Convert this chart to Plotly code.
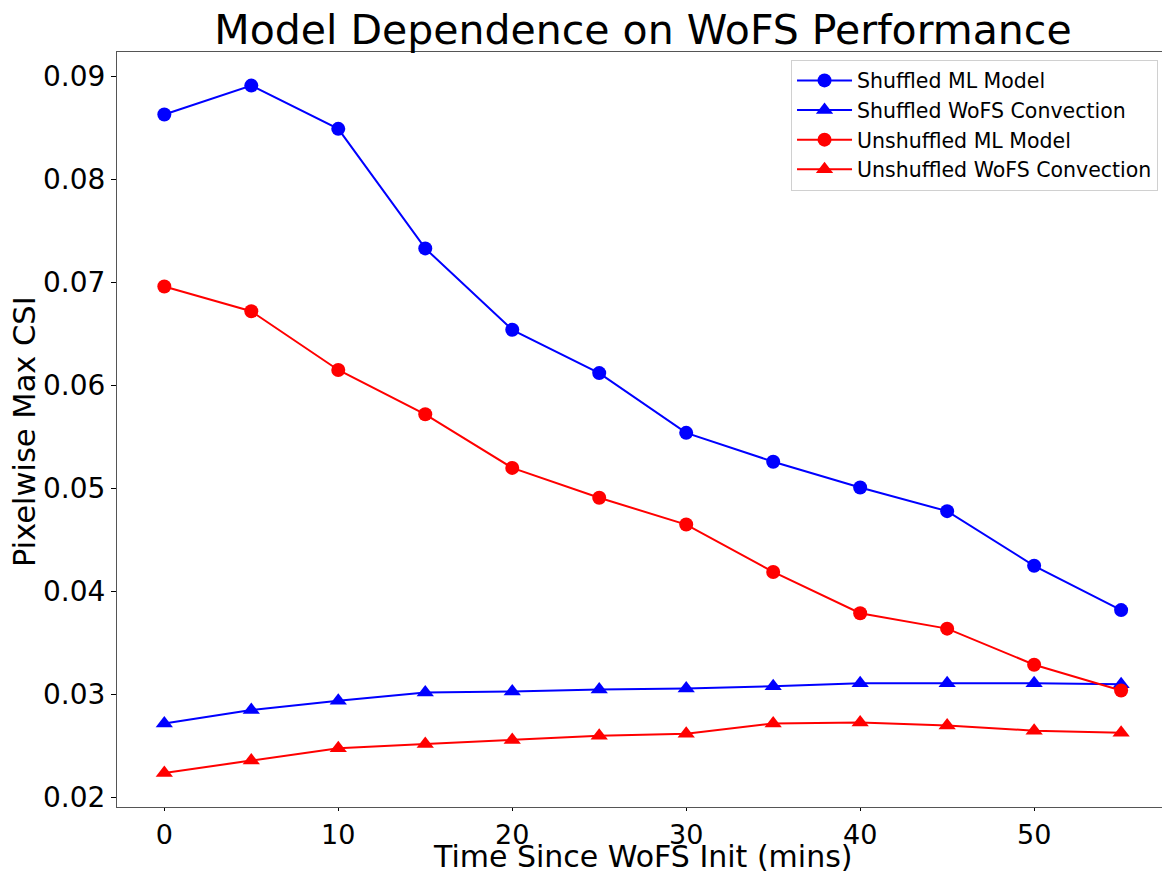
import plotly.graph_objects as go

time_mins = [0, 5, 10, 15, 20, 25, 30, 35, 40, 45, 50, 55]

shuffled_ml = [0.0863, 0.0891, 0.0849, 0.0733, 0.0654, 0.0612, 0.0554, 0.0526, 0.0501, 0.0478, 0.0425, 0.0382]
shuffled_wofs = [0.0272, 0.0285, 0.0294, 0.0302, 0.0303, 0.0305, 0.0306, 0.0308, 0.0311, 0.0311, 0.0311, 0.0310]
unshuffled_ml = [0.0696, 0.0672, 0.0615, 0.0572, 0.0520, 0.0491, 0.0465, 0.0419, 0.0379, 0.0364, 0.0329, 0.0304]
unshuffled_wofs = [0.0224, 0.0236, 0.0248, 0.0252, 0.0256, 0.0260, 0.0262, 0.0272, 0.0273, 0.0270, 0.0265, 0.0263]

series_names = ["Shuffled ML Model", "Shuffled WoFS Convection",
                "Unshuffled ML Model", "Unshuffled WoFS Convection"]
series_values = [shuffled_ml, shuffled_wofs, unshuffled_ml, unshuffled_wofs]
series_colors = ["#0000ff", "#0000ff", "#ff0000", "#ff0000"]
series_symbols = ["circle", "triangle-up", "circle", "triangle-up"]

x_ticks = [0, 10, 20, 30, 40, 50]
y_ticks = [0.02, 0.03, 0.04, 0.05, 0.06, 0.07, 0.08, 0.09]

FONT = "DejaVu Sans"

fig = go.Figure()
for name, vals, col, sym in zip(series_names, series_values, series_colors, series_symbols):
    fig.add_trace(go.Scatter(
        x=time_mins, y=vals, name=name, mode="lines+markers",
        line=dict(color=col, width=2),
        marker=dict(color=col, symbol=sym, size=14 if sym == "circle" else 15,
                    line=dict(width=0)),
    ))

fig.update_layout(
    width=1162, height=873,
    margin=dict(l=117, r=0, t=52, b=66, autoexpand=False),
    paper_bgcolor="white", plot_bgcolor="white",
    font=dict(family=FONT, color="black"),
    title=dict(text="Model Dependence on WoFS Performance",
               font=dict(size=41, family=FONT, color="black"),
               x=643 / 1162, xref="container", xanchor="center",
               y=1 - 30 / 873, yref="container", yanchor="middle"),
    showlegend=True,
    legend=dict(x=0.645, y=0.99, xanchor="left", yanchor="top",
                font=dict(size=20.5, family=FONT, color="black"),
                bgcolor="white", bordercolor="#d0d0d0", borderwidth=1,
                itemwidth=55),
    xaxis=dict(range=[-2.72, 57.35], tickvals=x_ticks, ticktext=[str(v) for v in x_ticks],
               showgrid=False, zeroline=False, showline=True, linecolor="#555555",
               linewidth=1.2, mirror=True, ticks="outside", ticklen=3, tickwidth=1,
               tickcolor="black", tickfont=dict(size=27, family=FONT, color="black"),
               automargin=False),
    yaxis=dict(range=[0.01909, 0.09236], tickvals=y_ticks, ticktext=["%.2f" % v for v in y_ticks],
               showgrid=False, zeroline=False, showline=True, linecolor="#555555",
               linewidth=1.2, mirror=False, ticks="outside", ticklen=5, tickwidth=1,
               tickcolor="black", tickfont=dict(size=28, family=FONT, color="black"),
               automargin=False),
    annotations=[
        dict(text="Time Since WoFS Init (mins)", xref="paper", yref="paper",
             x=(643 - 117) / 1045, y=-(857 - 807) / 755, xanchor="center", yanchor="middle",
             showarrow=False, font=dict(size=30, family=FONT, color="black")),
        dict(text="Pixelwise Max CSI", xref="paper", yref="paper",
             x=-(117 - 24) / 1045, y=(807 - 432) / 755, xanchor="center", yanchor="middle",
             textangle=-90, showarrow=False, font=dict(size=30.5, family=FONT, color="black")),
    ],
)

fig.write_html("out.html")
